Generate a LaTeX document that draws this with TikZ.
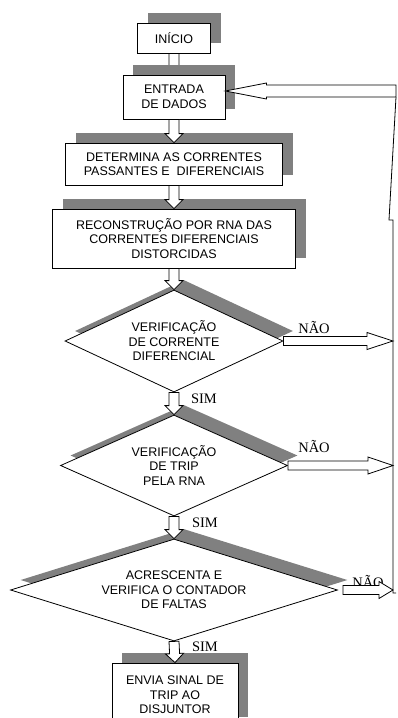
\documentclass[tikz,border=0pt]{standalone}
\usepackage{fontspec}
\setmainfont{Liberation Serif}
\setsansfont{Liberation Sans}
\usepackage{tikz}
\usetikzlibrary{calc, shapes.geometric, shadows, backgrounds}

\definecolor{sombra}{RGB}{128,128,128}

\tikzset{
	caixa/.style = {draw, fill = white, line width = 0.8pt, align = center, inner sep = 0pt,
		font = \sffamily\fontsize{12.5}{14.5}\selectfont,
		copy shadow = {shadow xshift = 10pt, shadow yshift = 10pt, fill = sombra, draw = none}},
	losango/.style = {caixa, diamond},
	rotulo/.style = {font = \fontsize{14.5}{16}\selectfont, inner sep = 0pt, anchor = base},
	seta/.style = {draw, fill = white, line width = 0.8pt},
	linha/.style = {line width = 0.8pt}
}

\newcommand{\setabloco}[5]{%
	\coordinate (sb) at ($(#2)!#5!(#1)$);
	\draw [seta] ($(#1)!#3!90:(#2)$) -- ($(sb)!#3!90:(#2)$) -- ($(sb)!#4!90:(#2)$) -- (#2)
		-- ($(sb)!#4!-90:(#2)$) -- ($(sb)!#3!-90:(#2)$) -- ($(#1)!#3!-90:(#2)$) -- cycle;
}

\begin{document}
\begin{tikzpicture}[x = 1pt, y = -1pt]
			\useasboundingbox (0,0) rectangle (397,718);
			\clip (0,0) rectangle (397,718);
			
			\node [caixa, minimum width = 73pt, minimum height = 30pt] (inicio) at (174,38) {INÍCIO};
			\node [caixa, minimum width = 102pt, minimum height = 44pt] (entrada) at (174,97) {ENTRADA\\DE DADOS};
			\node [caixa, minimum width = 217pt, minimum height = 42pt] (determina) at (174,164) {DETERMINA AS CORRENTES\\PASSANTES E \ DIFERENCIAIS};
			\node [caixa, minimum width = 243pt, minimum height = 59pt] (reconstrucao) at (174,238.5) {RECONSTRUÇÃO POR RNA DAS\\CORRENTES DIFERENCIAIS\\DISTORCIDAS};
			
			\node [losango, aspect = 2.14, minimum width = 218pt, minimum height = 102pt] (d1) at (174,341) {VERIFICAÇÃO\\DE CORRENTE\\DIFERENCIAL};
			\node [losango, aspect = 2.25, minimum width = 227pt, minimum height = 101pt] (d2) at (174,465.5) {VERIFICAÇÃO\\DE TRIP\\PELA RNA};
			\node [losango, aspect = 3.2, minimum width = 327pt, minimum height = 102pt] (d3) at (174,590) {ACRESCENTA E\\VERIFICA O CONTADOR\\DE FALTAS};
			
			\node [caixa, minimum width = 126pt, minimum height = 64pt] (envia) at (175,695) {ENVIA SINAL DE\\TRIP AO\\DISJUNTOR};
			
			\node [rotulo] (nao1) at (314,333) {NÃO};
			\node [rotulo] (nao2) at (314,452) {NÃO};
			\node [rotulo] (nao3) at (368,587) {NÃO};
			\node [rotulo] (sim1) at (204,403) {SIM};
			\node [rotulo] (sim2) at (205,527) {SIM};
			\node [rotulo] (sim3) at (205,651) {SIM};
			
			\coordinate (rt) at (396,91);
			\coordinate (rs) at (396,97);
			\coordinate (rq) at (389,220);
			\coordinate (rj) at (393,220);
			\coordinate (rb) at (393,593);
			\coordinate (rp) at (396,593);
			
			\coordinate (f0) at (entrada.east |- rt);
			\coordinate (f1) at (d1.east -| rb);
			\coordinate (f2) at (d2.east -| rb);
			\coordinate (s3) at ([xshift = 5pt]d3.east);
			\coordinate (f3) at (d3.east -| rb);
			
			\begin{pgfonlayer}{background}
				\setabloco{inicio.south}{entrada.north}{5pt}{9pt}{9pt}
			\end{pgfonlayer}
			\setabloco{entrada.south}{determina.north}{5pt}{9pt}{9pt}
			\setabloco{determina.south}{reconstrucao.north}{5pt}{9pt}{9pt}
			\setabloco{reconstrucao.south}{d1.north}{5pt}{9pt}{9pt}
			\setabloco{d1.south}{d2.north}{5pt}{9pt}{9pt}
			\setabloco{d2.south}{d3.north}{5pt}{9pt}{9pt}
			\setabloco{d3.south}{envia.north}{5pt}{9pt}{9pt}
			
			\setabloco{d1.east}{f1}{4.5pt}{8.5pt}{26pt}
			\setabloco{d2.east}{f2}{4.5pt}{8.5pt}{25pt}
			\setabloco{s3}{f3}{4.5pt}{8.5pt}{14pt}
			
			\draw [linha] (rp) -- (rb) -- (rj) -- (rq) -- (rs);
			\setabloco{rt}{f0}{6pt}{8pt}{41pt}
			
		\end{tikzpicture}
\end{document}
